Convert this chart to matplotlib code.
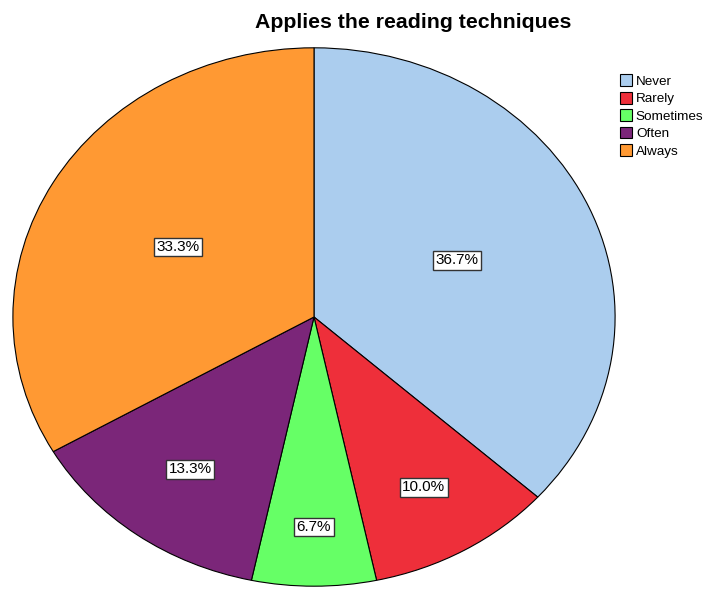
import matplotlib
matplotlib.use('Agg')
import numpy as np
import matplotlib.pyplot as plt

# Responses for "Applies the reading techniques"
categories = ['Never', 'Rarely', 'Sometimes', 'Often', 'Always']
counts = [11, 3, 2, 4, 10]
colors = ['#abcdee', '#ee2f3a', '#66ff66', '#7b2679', '#ff9933']
# radial position of each percentage label (fraction of radius)
label_dist = [0.52, 0.73, 0.78, 0.70, 0.52]

fig = plt.figure(figsize=(7.07, 5.90), dpi=100)
ax = fig.add_axes([12/707, 3/590, 604/707, 540/590])

wedges, _ = ax.pie(
    counts, colors=colors, startangle=90, counterclock=False,
    wedgeprops=dict(edgecolor='black', linewidth=0.8))

total = sum(counts)
for w, c, d in zip(wedges, counts, label_dist):
    ang = np.deg2rad((w.theta1 + w.theta2) / 2)
    ax.text(d * np.cos(ang), d * np.sin(ang), f'{100 * c / total:.1f}%',
            ha='center', va='center', fontsize=11, family='Liberation Sans',
            bbox=dict(facecolor='white', edgecolor='#333333', linewidth=1.0, pad=1.8))

ax.set_aspect('auto')
ax.set_xlim(-1.003, 1.003)
ax.set_ylim(-1.003, 1.003)

fig.text(413/707, 1 - 23/590, 'Applies the reading techniques', ha='center', va='center',
         fontsize=15.3, fontweight='bold', family='Liberation Sans')

fig.legend(wedges, categories, loc='upper left', bbox_to_anchor=(611/707, 1 - 65/590),
           frameon=False, handlelength=0.85, handleheight=0.95,
           handletextpad=0.3, labelspacing=0.3, borderpad=0.2,
           prop=dict(family='Liberation Sans', size=9.7))

fig.savefig('out.png', dpi=100)
